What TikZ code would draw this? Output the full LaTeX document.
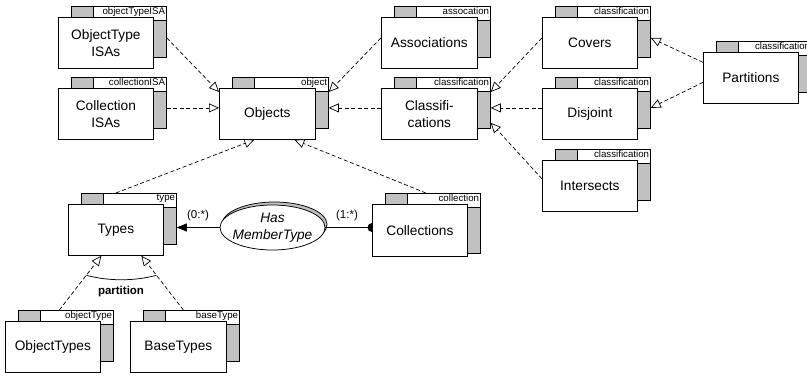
\documentclass[tikz,border=0pt]{standalone}
\usepackage{fontspec}
\setmainfont{Liberation Sans}
\usetikzlibrary{arrows.meta,calc,shapes.geometric}
\definecolor{boxgrey}{HTML}{C0C0C0}
\tikzset{
  ln/.style={draw=black, line width=0.75pt},
  backbox/.style={ln, fill=white, rectangle, inner sep=0pt, anchor=north west},
  frontbox/.style={ln, fill=white, rectangle, inner sep=0pt, anchor=north west, align=center,
    font=\fontsize{13.7}{16.5}\selectfont},
  greyfill/.style={ln, fill=boxgrey},
  taglbl/.style={font=\fontsize{9.7}{11}\selectfont, inner sep=0pt, anchor=north east},
  gen/.style={draw=black, line width=0.7pt, dash pattern=on 4pt off 2.5pt,
    -{Triangle[open, length=10pt, width=9pt, fill=white]}},
  assoc/.style={draw=black, line width=0.75pt},
  card/.style={font=\fontsize{11.5}{13}\selectfont, inner sep=0pt},
}
\newcommand\umlbox[8]{% name, x, y, w, h, back h, tag, text
  \node[backbox, minimum width=#4pt, minimum height=#6pt] (#1-b) at ({#2+13},{#3-11}) {};
  \draw[greyfill] (#1-b.north west) rectangle ([xshift=22pt,yshift=-14pt]#1-b.north west);
  \draw[ln, fill=white] ([xshift=22pt]#1-b.north west) rectangle ([yshift=-14pt]#1-b.north east);
  \draw[greyfill] ([xshift=-13pt,yshift=-14pt]#1-b.north east) rectangle (#1-b.south east);
  \node[taglbl] (#1-t) at ([xshift=-1.5pt,yshift=-1.2pt]#1-b.north east) {#7};
  \node[frontbox, minimum width=#4pt, minimum height=#5pt] (#1) at (#2,#3) {#8};
}
\begin{document}
\begin{tikzpicture}[x=1pt, y=-1pt]
\useasboundingbox (0,0) rectangle (807,376);
\clip (0,0) rectangle (807,376);

\umlbox{oti}{58}{17}{95}{51}{51}{objectTypeISA}{ObjectType\\ISAs}
\umlbox{ci}{58}{88}{95}{51}{51}{collectionISA}{Collection\\ISAs}
\umlbox{obj}{219}{88}{96}{51}{51}{object}{Objects}
\umlbox{asc}{381}{17}{96}{51}{51}{assocation}{Associations}
\umlbox{cls}{381}{88}{96}{51}{51}{classification}{Classifi-\\cations}
\umlbox{cov}{542}{17}{95}{51}{51}{classification}{Covers}
\umlbox{dis}{542}{88}{95}{51}{51}{classification}{Disjoint}
\umlbox{int}{542}{160}{95}{51}{51}{classification}{Intersects}
\umlbox{par}{703}{52}{95}{51}{51}{classification}{Partitions}
\umlbox{typ}{68}{204}{95}{51}{51}{type}{Types}
\umlbox{col}{372}{204}{95}{52}{60}{collection}{Collections}
\umlbox{ot}{5}{321}{95}{51}{51}{objectType}{ObjectTypes}
\umlbox{bt}{130}{321}{96}{51}{51}{baseType}{BaseTypes}

% generalisations
\draw[gen] ([yshift=-6pt]oti-b.east) -- ([yshift=-4pt]obj.north west);
\coordinate (s2) at ([yshift=-5pt]ci-b.east);
\draw[gen] (s2) -- (s2 -| obj.west);
\draw[gen] ([yshift=5pt]asc.west) -- ([yshift=-15pt]obj-b.north east);
\coordinate (s4) at ([yshift=6pt]cls.west);
\draw[gen] (s4) -- (s4 -| obj-b.east);
\draw[gen] ([yshift=5pt]cov.west) -- ([yshift=-15pt]cls-b.north east);
\coordinate (s6) at ([yshift=6pt]dis.west);
\draw[gen] (s6) -- (s6 -| cls-b.east);
\draw[gen] ([yshift=7pt]int.west) -- ([yshift=6pt]cls-b.south east);
\draw[gen] ([yshift=15.5pt]par.west) -- ([yshift=-6pt]cov-b.east);
\draw[gen] ([yshift=-4.5pt]par.west) -- ([yshift=-5pt]dis-b.east);
\draw[gen] ([yshift=11pt]typ.north) -- ([xshift=-13pt]obj.south);
\draw[gen] ([xshift=-7pt]col-b.north) -- ([xshift=27pt]obj.south);

\coordinate (otS) at ([xshift=-6.5pt]ot-b.north);
\coordinate (otT) at ([xshift=-14.5pt]typ.south);
\coordinate (btS) at ([xshift=-8pt]bt-b.north);
\coordinate (btT) at ([xshift=25.5pt]typ.south);
\draw[gen] (otS) -- (otT);
\draw[gen] (btS) -- (btT);
\draw[assoc] ($(otT)!0.36!(otS)$) .. controls +(23,6) and +(-23,6) .. ($(btT)!0.36!(btS)$);
\node[font=\bfseries\fontsize{11.5}{13}\selectfont, inner sep=0pt] (plbl) at (121,292) {partition};

% association
\coordinate (hmc) at (272.5,227.5);
\draw[ln, fill=boxgrey] ([shift={(2,-3)}]hmc) ellipse [x radius=52.5pt, y radius=22.5pt];
\node[ellipse, ln, fill=white, minimum width=105pt, minimum height=45pt, inner sep=0pt] (hm) at (hmc) {};
\node[align=center, font=\itshape\fontsize{13.7}{17.5}\selectfont, inner sep=0pt] (hmt) at (hm) {Has\\MemberType};
\draw[assoc, -{Triangle[length=10pt, width=8pt]}] (hm.west) -- (hm.west -| typ-b.east);
\draw[assoc] (hm.east) -- (hm.east -| col.west);
\fill (hm.east -| col.west) ++(0,-4.5) arc[start angle=90, end angle=270, radius=4.5pt] -- cycle;
\node[card] (c0) at (198,216) {(0:*)};
\node[card] (c1) at (347,216) {(1:*)};
\end{tikzpicture}
\end{document}
